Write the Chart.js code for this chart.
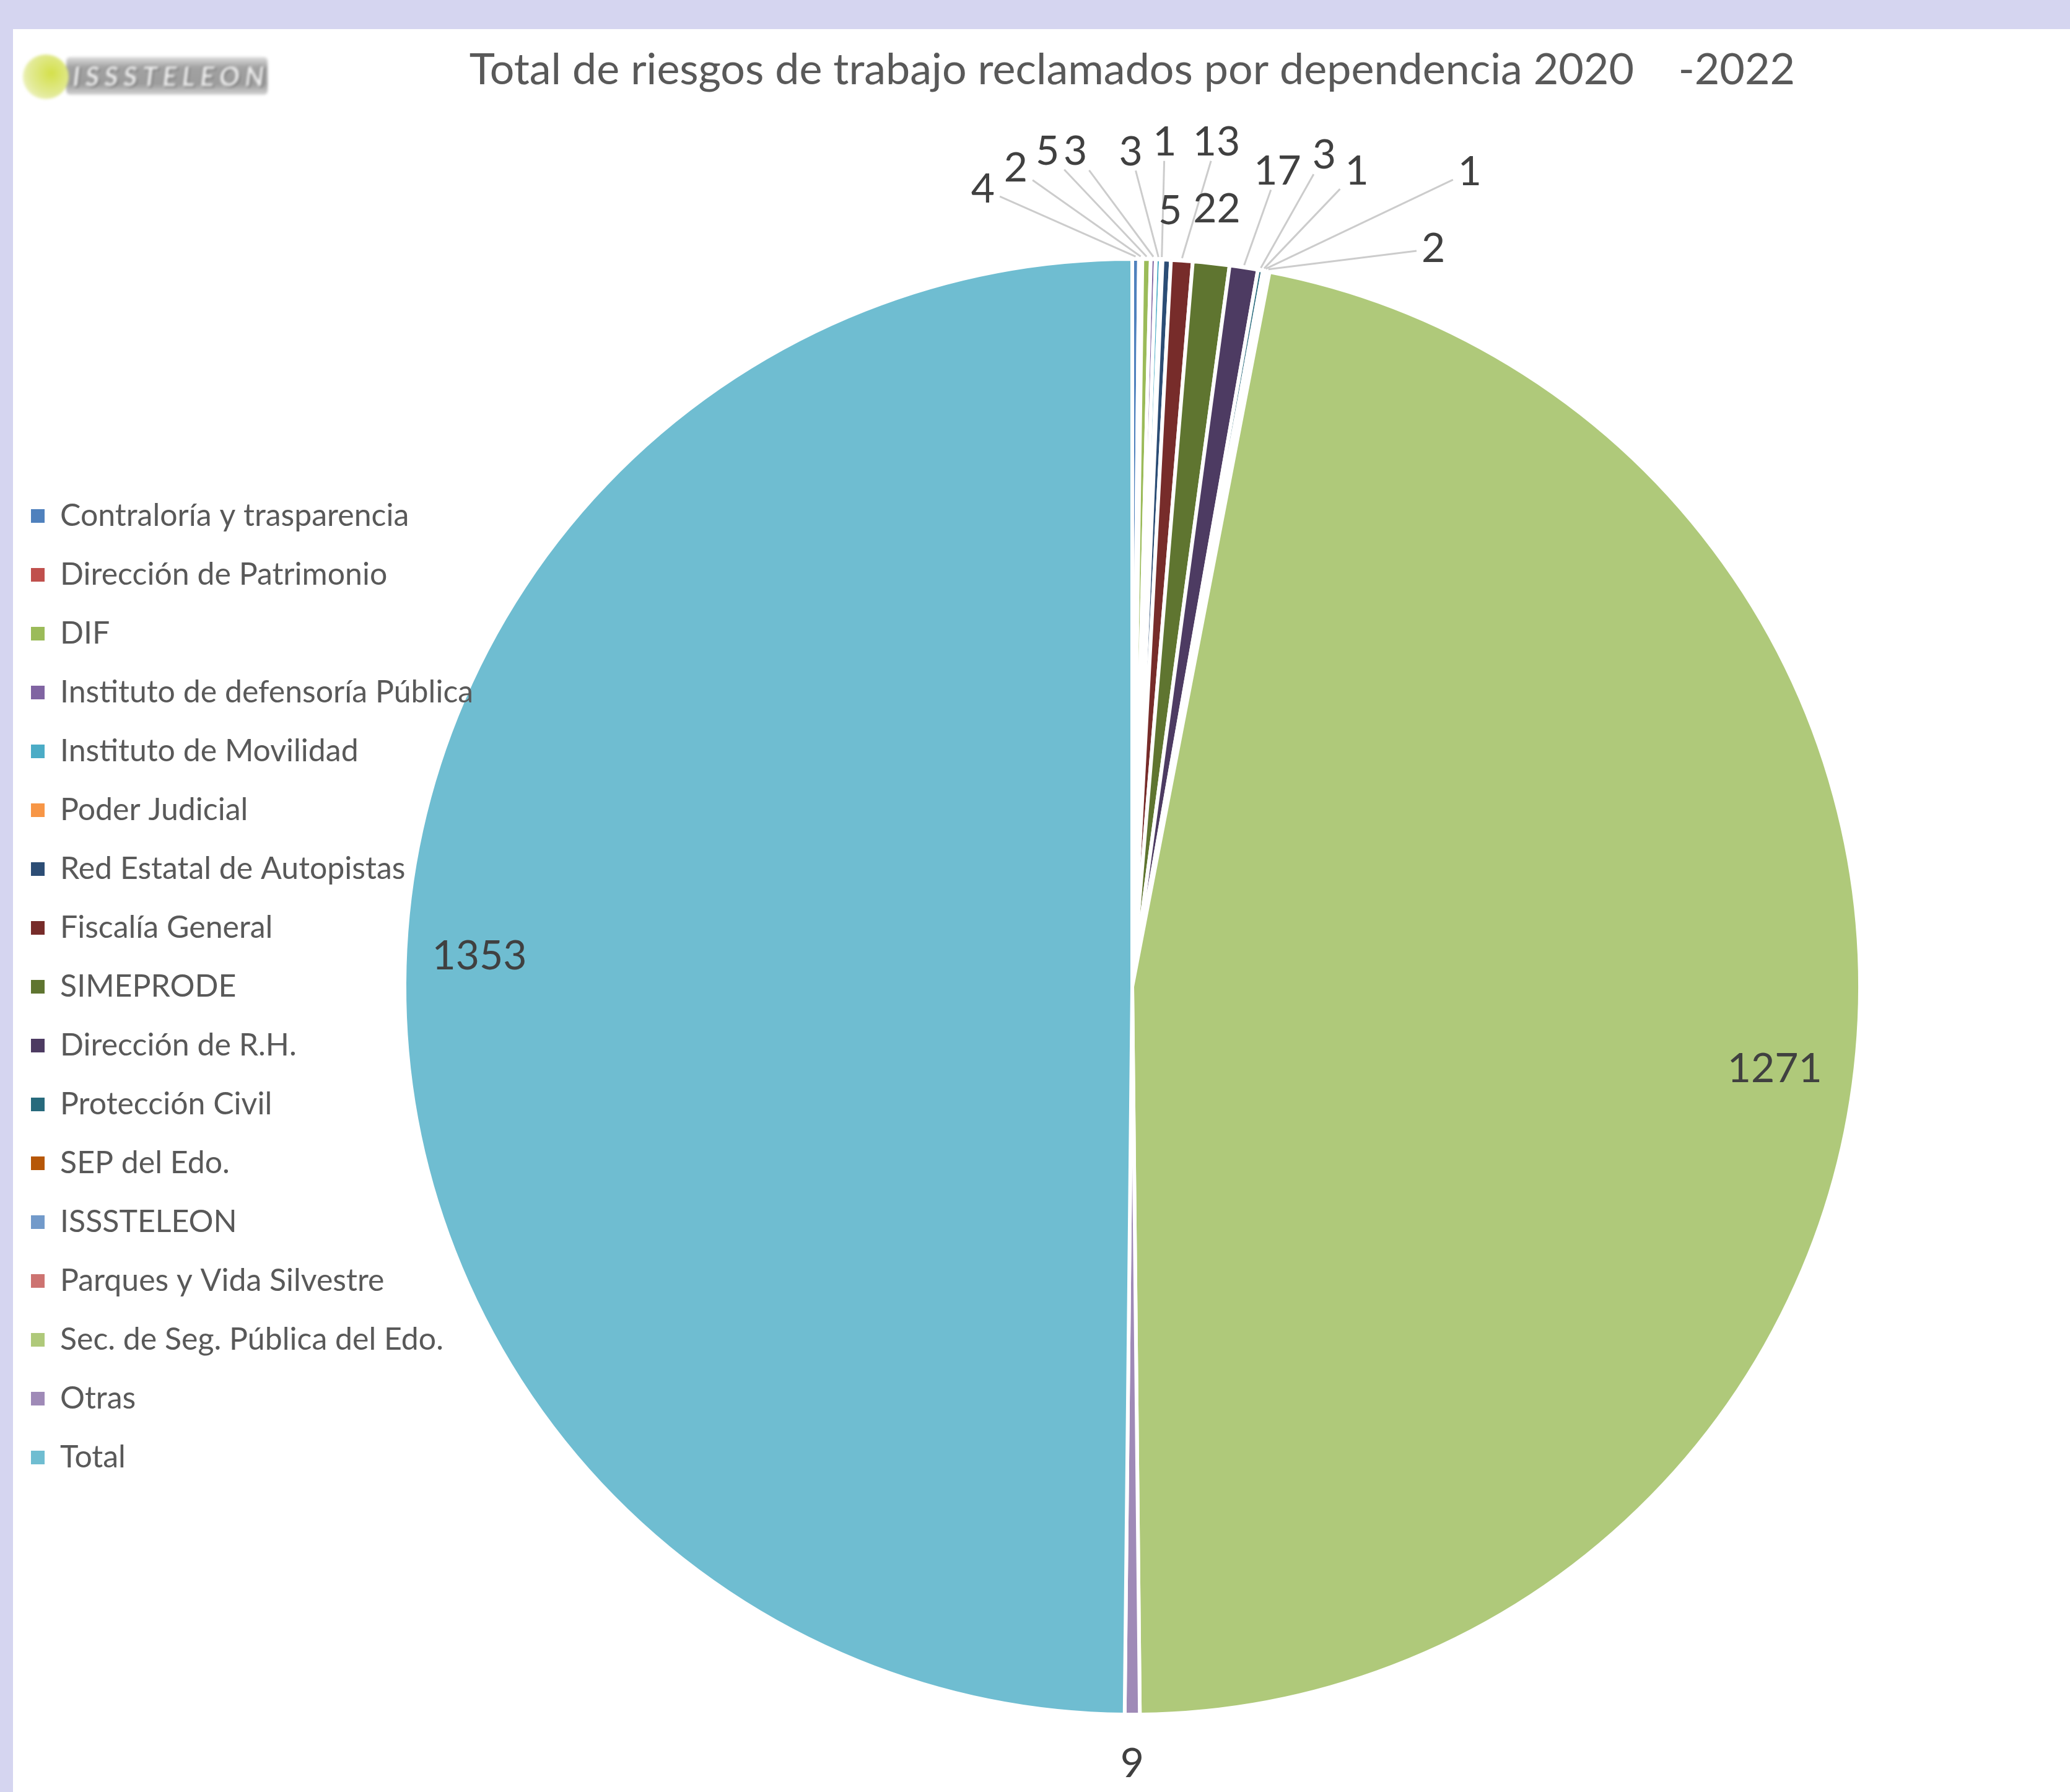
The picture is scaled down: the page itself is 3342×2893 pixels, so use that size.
<!DOCTYPE html>
<html>
<head>
<meta charset="utf-8">
<script src="https://cdn.jsdelivr.net/npm/chart.js@4.4.1/dist/chart.umd.min.js"></script>
<style>
    html, body { margin: 0; padding: 0; }
    body { width: 3342px; height: 2893px; background: #d5d5f0; position: relative; overflow: hidden; font-family: Lato, sans-serif; }
    #hoja { position: absolute; left: 21px; top: 47px; width: 3321px; height: 2846px; background: #fff; }
    #logo { position: absolute; left: 37px; top: 86px; width: 400px; height: 76px; filter: blur(2px); }
    #logo .barra { position: absolute; left: 70px; top: 6px; width: 325px; height: 61px; border-radius: 6px;
        background: linear-gradient(#dedede, #a2a2a2 28%, #9c9c9c 72%, #d4d4d4); }
    #logo .texto { position: absolute; left: 80px; top: 11px; font: italic bold 44px Lato; line-height: 50px; letter-spacing: 8px;
        color: #eeeeee; text-shadow: 2px 2px 0 #6a6a6a, -1px -1px 0 #6a6a6a; }
    #logo .punto { position: absolute; left: 0; top: 2px; width: 74px; height: 72px; border-radius: 50%;
        background: radial-gradient(circle at 62% 42%, #d4e04a, #e2ea94 55%, #f6f8e2); }
</style>
</head>
<body>
<div id="hoja"><canvas id="grafica" width="3321" height="2846"></canvas></div>
<div id="logo"><div class="barra"></div><div class="punto"></div><div class="texto">ISSSTELEON</div></div>
<script>
// Datos del grafico
const categorias = ['Contraloría y trasparencia', 'Dirección de Patrimonio', 'DIF', 'Instituto de defensoría Pública',
    'Instituto de Movilidad', 'Poder Judicial', 'Red Estatal de Autopistas', 'Fiscalía General', 'SIMEPRODE',
    'Dirección de R.H.', 'Protección Civil', 'SEP del Edo.', 'ISSSTELEON', 'Parques y Vida Silvestre',
    'Sec. de Seg. Pública del Edo.', 'Otras', 'Total'];
const riesgos = [4, 2, 5, 3, 3, 1, 5, 13, 22, 17, 3, 1, 1, 2, 1271, 9, 1353];
const colores = ['#4f81bd', '#c0504d', '#9bbb59', '#8064a2', '#4bacc6', '#f79646', '#2c4d75', '#772c2a', '#5f7530',
    '#4d3b62', '#276a7c', '#b65708', '#729aca', '#cd7371', '#afc97a', '#9f8ab7', '#6fbdd1'];

// Posicion de las etiquetas: angulo en grados desde las 12 (horario), null = mitad del sector; distancia en radios
const etiquetaAngulo = [-10.6, -8.1, -5.8, -3.9, -0.1, 2.2, 2.8, 5.7, 6.2, 10.1, 13.0, 15.4, 22.5, 22.2, 97.3, null, -87.3];
const etiquetaRadio = [1.115, 1.136, 1.153, 1.15, 1.147, 1.161, 1.067, 1.166, 1.075, 1.138, 1.172, 1.162, 1.212, 1.095, 0.89, 1.068, 0.898];

Chart.defaults.font.family = 'Lato';

// Etiquetas de datos con lineas guia (estilo Excel)
const etiquetas = {
    id: 'etiquetas',
    beforeUpdate(chart) {
        // la leyenda se dibuja encima del pastel, como en Excel
        const legend = chart.legend;
        if (legend) legend._layers = () => [{ z: 1, draw: (area) => legend.draw(area) }];
    },
    afterLayout(chart) {
        // que los textos largos de la leyenda no se recorten
        if (chart.legend) chart.legend.right = chart.legend.left + 1000;
    },
    afterDatasetsDraw(chart) {
        const ctx = chart.ctx;
        const meta = chart.getDatasetMeta(0);
        const valores = chart.data.datasets[0].data;
        ctx.save();
        ctx.font = '66px Lato';
        ctx.textAlign = 'center';
        ctx.textBaseline = 'middle';
        meta.data.forEach((arc, i) => {
            const p = arc.getProps(['x', 'y', 'startAngle', 'endAngle', 'outerRadius'], true);
            const mid = (p.startAngle + p.endAngle) / 2;
            const ang = etiquetaAngulo[i] === null ? mid : (etiquetaAngulo[i] - 90) * Math.PI / 180;
            const lx = p.x + Math.cos(ang) * p.outerRadius * etiquetaRadio[i];
            const ly = p.y + Math.sin(ang) * p.outerRadius * etiquetaRadio[i];
            const texto = String(valores[i]);

            if (etiquetaRadio[i] > 1) {
                const tx = p.x + Math.cos(mid) * (p.outerRadius + 4);
                const ty = p.y + Math.sin(mid) * (p.outerRadius + 4);
                const dx = tx - lx;
                const dy = ty - ly;
                const hw = ctx.measureText(texto).width / 2 + 8;
                const hh = 30;
                const t = Math.min(hw / Math.max(Math.abs(dx), 1e-6), hh / Math.max(Math.abs(dy), 1e-6));
                if (t < 1 && Math.hypot(dx, dy) * (1 - t) > 60) {
                    ctx.beginPath();
                    ctx.moveTo(lx + dx * t, ly + dy * t);
                    ctx.lineTo(tx, ty);
                    ctx.strokeStyle = '#cccccc';
                    ctx.lineWidth = 3;
                    ctx.stroke();
                }
            }
            ctx.fillStyle = '#404040';
            ctx.fillText(texto, lx, ly);
        });
        ctx.restore();
    }
};

const canvas = document.getElementById('grafica');
const chart = new Chart(canvas.getContext('2d'), {
    type: 'pie',
    data: {
        labels: categorias,
        datasets: [{
            data: riesgos,
            backgroundColor: colores,
            borderColor: '#ffffff',
            borderWidth: 6
        }]
    },
    options: {
        responsive: false,
        devicePixelRatio: 1,
        animation: false,
        layout: {
            padding: { left: -16, right: 336, top: 0, bottom: 122 }
        },
        plugins: {
            title: {
                display: true,
                text: 'Total de riesgos de trabajo reclamados por dependencia 2020    -2022',
                fullSize: false,
                color: '#595959',
                font: { family: 'Lato', size: 70, weight: 'normal' },
                padding: { top: 24, bottom: 260 }
            },
            legend: {
                position: 'left',
                fullSize: false,
                maxWidth: 645,
                labels: {
                    boxWidth: 22,
                    boxHeight: 22,
                    padding: 45,
                    color: '#595959',
                    font: { family: 'Lato', size: 50 },
                    generateLabels: function(chart) {
                        const base = Chart.overrides.pie.plugins.legend.labels.generateLabels(chart);
                        return base.map(item => ({ ...item, strokeStyle: item.fillStyle, lineWidth: 0 }));
                    }
                }
            },
            tooltip: { enabled: false }
        }
    },
    plugins: [etiquetas]
});
</script>
</body>
</html>
